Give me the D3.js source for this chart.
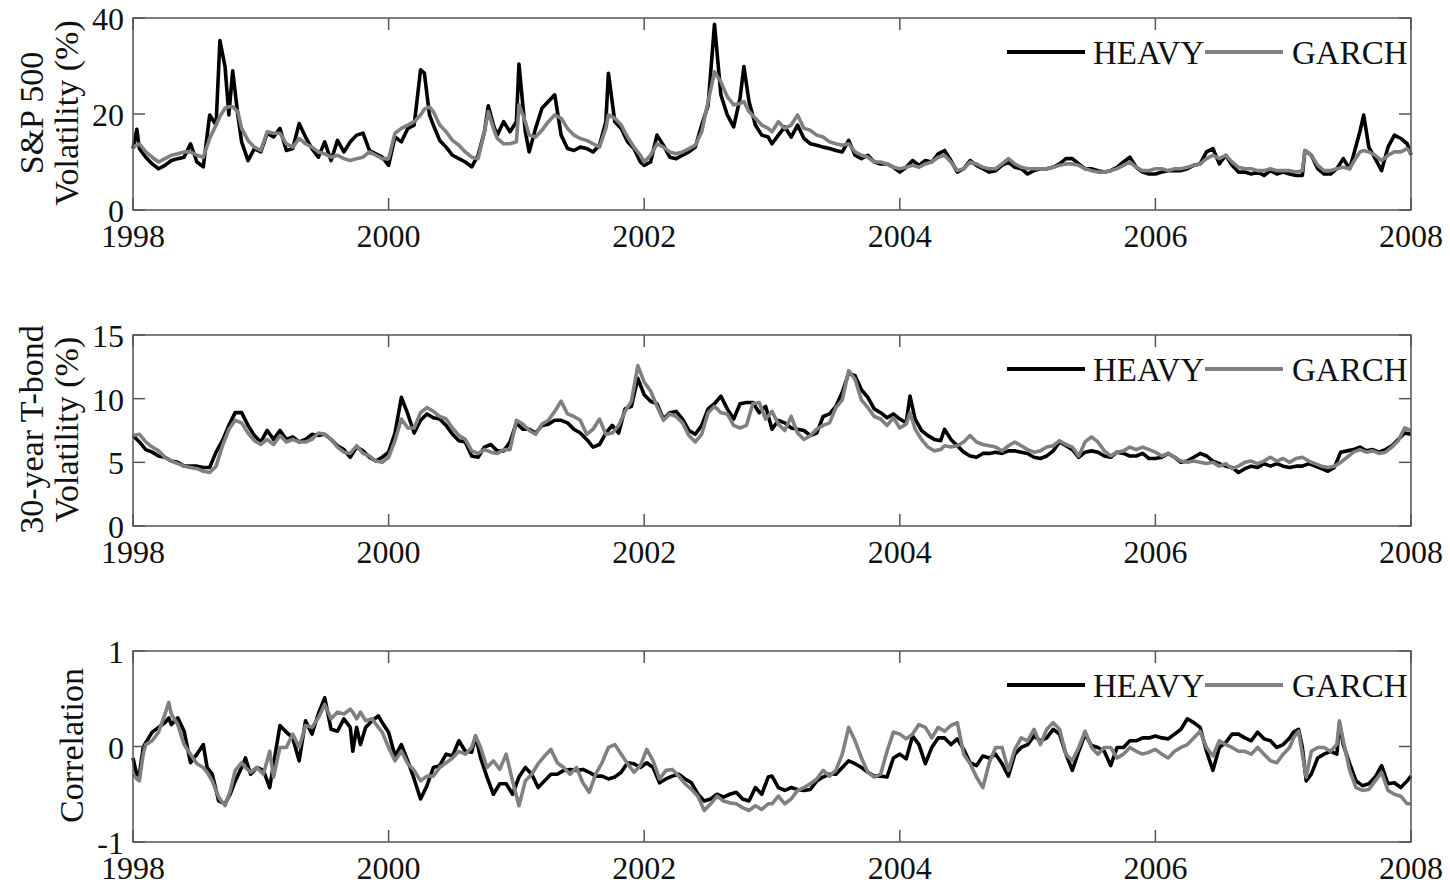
<!DOCTYPE html>
<meta charset="utf-8">
<head>
    <script type="text/javascript" src="https://cdn.jsdelivr.net/npm/d3@7"></script>
    <style>
        body { margin: 0; background: #fff; }
        svg text { font-family: "Liberation Serif", "Times New Roman", serif; fill: #111; }
        .tick-label { font-size: 32px; }
        .axis-label { font-size: 34px; }
        .legend-label { font-size: 33px; }
    </style>
</head>
<body>
<div id="chart"></div>
<script>

// ---- S&P 500 volatility (%) ----
let spDates = [
    1998.00, 1998.03, 1998.05, 1998.10, 1998.15, 1998.20, 1998.25, 1998.30, 1998.35, 1998.40, 1998.45, 1998.50,
    1998.55, 1998.60, 1998.65, 1998.68, 1998.72, 1998.75, 1998.78, 1998.82, 1998.85, 1998.90, 1998.95,
    1999.00, 1999.05, 1999.10, 1999.15, 1999.20, 1999.25, 1999.30, 1999.35, 1999.40, 1999.45, 1999.50,
    1999.55, 1999.60, 1999.65, 1999.70, 1999.75, 1999.80, 1999.85, 1999.90, 1999.95,
    2000.00, 2000.05, 2000.10, 2000.15, 2000.20, 2000.25, 2000.28, 2000.32, 2000.35, 2000.40, 2000.45,
    2000.50, 2000.55, 2000.60, 2000.65, 2000.70, 2000.75, 2000.78, 2000.82, 2000.85, 2000.90, 2000.95,
    2001.00, 2001.02, 2001.07, 2001.10, 2001.15, 2001.20, 2001.25, 2001.30, 2001.35, 2001.40, 2001.45,
    2001.50, 2001.55, 2001.60, 2001.65, 2001.70, 2001.72, 2001.77, 2001.82, 2001.87, 2001.92, 2001.97,
    2002.00, 2002.05, 2002.10, 2002.15, 2002.20, 2002.25, 2002.30, 2002.35, 2002.40, 2002.45, 2002.50,
    2002.55, 2002.60, 2002.65, 2002.70, 2002.75, 2002.78, 2002.82, 2002.87, 2002.92, 2002.97,
    2003.00, 2003.05, 2003.10, 2003.15, 2003.20, 2003.25, 2003.30, 2003.35, 2003.40, 2003.45,
    2003.50, 2003.55, 2003.60, 2003.65, 2003.70, 2003.75, 2003.80, 2003.85, 2003.90, 2003.95,
    2004.00, 2004.05, 2004.10, 2004.15, 2004.20, 2004.25, 2004.30, 2004.35, 2004.40, 2004.45,
    2004.50, 2004.55, 2004.60, 2004.65, 2004.70, 2004.75, 2004.80, 2004.85, 2004.90, 2004.95,
    2005.00, 2005.05, 2005.10, 2005.15, 2005.20, 2005.25, 2005.30, 2005.35, 2005.40, 2005.45,
    2005.50, 2005.55, 2005.60, 2005.65, 2005.70, 2005.75, 2005.80, 2005.85, 2005.90, 2005.95,
    2006.00, 2006.05, 2006.10, 2006.15, 2006.20, 2006.25, 2006.30, 2006.35, 2006.40, 2006.45,
    2006.50, 2006.55, 2006.60, 2006.65, 2006.70, 2006.75, 2006.80, 2006.85, 2006.90, 2006.95,
    2007.00, 2007.05, 2007.10, 2007.15, 2007.17, 2007.22, 2007.27, 2007.32, 2007.37, 2007.42,
    2007.47, 2007.52, 2007.55, 2007.60, 2007.63, 2007.67, 2007.72, 2007.77, 2007.82, 2007.87,
    2007.92, 2007.97, 2008.00
];
let spHeavy = [
    12.8, 16.8, 12.8, 11, 9.6, 8.6, 9.3, 10.3, 10.7, 11, 13.8, 10,
    9, 19.8, 17.7, 35.3, 29.9, 19.8, 29, 19.8, 14.2, 10.3, 12.8,
    12.1, 16, 15.2, 17, 12.4, 12.8, 18, 15.2, 12.8, 11, 14.2,
    10.3, 14.5, 12.1, 14.2, 15.6, 16, 12.4, 11.7, 11,
    9.3, 15.2, 14.2, 17, 17.7, 29.2, 28.5, 19.8, 17.7, 14.5, 13.1,
    11.4, 10.7, 10, 9, 11.4, 16.3, 21.7, 17.7, 15.6, 18.4, 16.3,
    18.4, 30.4, 16.3, 12.1, 17, 21.2, 22.6, 24, 15.6, 12.8, 12.4,
    13.1, 12.8, 12.1, 13.5, 18.4, 28.5, 18.4, 17, 14.2, 12.8, 10,
    9.3, 10, 15.6, 13.5, 11, 10.7, 11.4, 12.1, 13.1, 17.7, 21.8,
    38.7, 24, 19.8, 17.3, 23.3, 29.9, 22.6, 17.7, 15.6, 15.2,
    13.8, 15.6, 17.3, 15.2, 17.7, 14.9, 13.8, 13.5, 13.1, 12.8,
    12.4, 12.1, 14.5, 11.4, 10.7, 11.4, 10, 9.6, 9.6, 8.9,
    7.9, 8.9, 10.3, 9.3, 10.3, 10, 11.7, 12.4, 10.3, 7.9,
    8.6, 10.3, 9.3, 8.6, 7.9, 8.2, 9.3, 10, 8.9, 8.6,
    7.5, 8.2, 8.6, 8.6, 8.9, 9.6, 10.7, 10.7, 9.6, 8.6,
    8.6, 8.2, 7.9, 8.2, 8.9, 10, 11, 8.9, 7.9, 7.5,
    7.5, 7.9, 8.2, 8.2, 8.2, 8.6, 9.3, 9.6, 12.1, 12.8,
    9.6, 11.4, 9.3, 7.9, 7.9, 7.5, 7.9, 7.2, 8.2, 7.5,
    7.9, 7.5, 7.2, 7.2, 12.4, 11.4, 8.6, 7.5, 7.5, 8.6,
    10.7, 8.6, 11.4, 16.3, 19.8, 13.1, 10.7, 8.2, 13.1, 15.6,
    14.9, 13.8, 11.5
];
let spGarch = [
    13.1, 13.5, 13.8, 12.1, 11, 10, 10.7, 11.4, 11.7, 12.1, 12.1, 11.4,
    11, 14.9, 17.7, 19.5, 21.2, 21.5, 21.5, 20.5, 17, 14.5, 13.1,
    12.4, 16.3, 16, 16, 13.8, 13.1, 14.9, 13.8, 13.1, 12.1, 11.7,
    11, 11.4, 10.7, 10.3, 10.7, 11, 12.1, 11.4, 10.7,
    10.7, 16, 17, 17.7, 18.4, 19.8, 21, 21.5, 20.5, 17.7, 16.3,
    14.5, 13.5, 12.1, 11, 10.7, 16.3, 20.5, 17, 14.9, 13.8, 13.8,
    14.2, 21.9, 18.4, 15.6, 15.2, 16.6, 18.4, 19.8, 19.1, 17, 15.6,
    14.9, 14.5, 13.8, 13.1, 17, 19.8, 19.1, 17.7, 15.2, 13.1, 11.4,
    10, 11.4, 13.8, 13.1, 12.1, 11.7, 12.1, 12.8, 13.5, 16.3, 22.6,
    28.8, 26.7, 23.6, 21.9, 22.2, 22.6, 20.5, 19.1, 17.7, 17,
    16.3, 18.4, 17, 17.7, 19.8, 17, 16.6, 15.6, 15.2, 14.2,
    13.8, 13.5, 13.8, 12.1, 11.4, 11, 10, 10, 9.6, 8.9,
    8.6, 8.9, 9.3, 8.9, 9.6, 10, 11, 11.4, 10, 8.2,
    8.6, 10, 9.6, 8.9, 8.6, 8.6, 9.6, 10.7, 9.6, 8.9,
    8.6, 8.6, 8.6, 8.6, 8.9, 9.3, 9.6, 9.6, 9.3, 8.6,
    8.2, 7.9, 7.9, 8.2, 8.6, 9.3, 10, 8.9, 8.2, 8.2,
    8.6, 8.6, 8.2, 8.6, 8.6, 8.9, 9.3, 9.6, 10.7, 11.4,
    10.7, 11.4, 10, 8.9, 8.6, 8.6, 8.2, 8.2, 8.6, 8.2,
    8.2, 8.2, 7.9, 8.2, 12.4, 11.4, 9.3, 8.2, 8.2, 8.6,
    8.9, 8.6, 10, 12.1, 12.4, 12.1, 11.4, 10.3, 11.4, 12.1,
    12.1, 12.8, 11.7
];

// ---- 30-year T-bond volatility (%) ----
let bondDates = [
    1998.00, 1998.05, 1998.10, 1998.15, 1998.20, 1998.25, 1998.30, 1998.35, 1998.40, 1998.45,
    1998.50, 1998.55, 1998.60, 1998.65, 1998.70, 1998.75, 1998.80, 1998.85, 1998.90, 1998.95,
    1999.00, 1999.05, 1999.10, 1999.15, 1999.20, 1999.25, 1999.30, 1999.35, 1999.40, 1999.45,
    1999.50, 1999.55, 1999.60, 1999.65, 1999.70, 1999.75, 1999.80, 1999.85, 1999.90, 1999.95,
    2000.00, 2000.05, 2000.10, 2000.15, 2000.20, 2000.25, 2000.30, 2000.35, 2000.40, 2000.45,
    2000.50, 2000.55, 2000.60, 2000.65, 2000.70, 2000.75, 2000.80, 2000.85, 2000.90, 2000.95,
    2001.00, 2001.05, 2001.10, 2001.15, 2001.20, 2001.25, 2001.30, 2001.35, 2001.40, 2001.45,
    2001.50, 2001.55, 2001.60, 2001.65, 2001.70, 2001.75, 2001.80, 2001.85, 2001.90, 2001.95,
    2002.00, 2002.05, 2002.10, 2002.15, 2002.20, 2002.25, 2002.30, 2002.35, 2002.40, 2002.45,
    2002.50, 2002.55, 2002.60, 2002.65, 2002.70, 2002.75, 2002.80, 2002.85, 2002.90, 2002.95,
    2003.00, 2003.05, 2003.10, 2003.15, 2003.20, 2003.25, 2003.30, 2003.35, 2003.40, 2003.45,
    2003.50, 2003.55, 2003.60, 2003.65, 2003.70, 2003.75, 2003.80, 2003.85, 2003.90, 2003.95,
    2004.00, 2004.05, 2004.08, 2004.12, 2004.17, 2004.22, 2004.27, 2004.32,
    2004.35, 2004.40, 2004.45, 2004.50, 2004.55, 2004.60, 2004.65, 2004.70, 2004.75, 2004.80,
    2004.85, 2004.90, 2004.95,
    2005.00, 2005.05, 2005.10, 2005.15, 2005.20, 2005.25, 2005.30, 2005.35, 2005.40, 2005.45,
    2005.50, 2005.55, 2005.60, 2005.65, 2005.70, 2005.75, 2005.80, 2005.85, 2005.90, 2005.95,
    2006.00, 2006.05, 2006.10, 2006.15, 2006.20, 2006.25, 2006.30, 2006.35, 2006.40, 2006.45,
    2006.50, 2006.55, 2006.60, 2006.65, 2006.70, 2006.75, 2006.80, 2006.85, 2006.90, 2006.95,
    2007.00, 2007.05, 2007.10, 2007.15, 2007.20, 2007.25, 2007.30, 2007.35, 2007.40, 2007.45,
    2007.50, 2007.55, 2007.60, 2007.65, 2007.70, 2007.75, 2007.80, 2007.85, 2007.90, 2007.95,
    2008.00
];
let bondHeavy = [
    7.1, 6.6, 6, 5.8, 5.5, 5.4, 5.1, 5, 4.7, 4.7, 4.7, 4.6, 4.6, 5.8, 6.7, 7.9, 8.9, 8.9, 7.9, 7.1,
    6.6, 7.5, 6.8, 7.5, 6.8, 7, 6.6, 6.8, 7.2, 7.1, 7.2, 6.8, 6.3, 6, 5.4, 6.2, 5.9, 5.4, 5.1, 5.4,
    5.8, 7.3, 10.1, 8.8, 7.3, 8.3, 8.8, 8.5, 8.4, 7.9, 7.2, 6.7, 6.6, 5.5, 5.4, 6.2, 6.4, 5.9, 5.9, 6.6,
    8.1, 7.6, 7.6, 7.3, 7.9, 8, 8.3, 8.3, 8.1, 7.6, 7.3, 6.8, 6.2, 6.4, 7.3, 7.9, 7.3, 9.2, 9.4, 11.6,
    10.3, 9.8, 9.6, 8.4, 8.9, 9, 8.4, 7.5, 7.2, 7.9, 9.2, 9.6, 10.2, 9.2, 8.4, 9.6, 9.7, 9.7, 8.9, 9.4,
    7.6, 8.3, 8.1, 7.7, 7.6, 7.5, 7.1, 7.3, 8.6, 8.8, 9.4, 10.5, 12, 11.8, 10.7, 10.1, 9.2, 8.9, 8.5, 8.8,
    8.4, 8.1, 10.2, 8.4, 7.5, 7.1, 6.8, 6.7,
    7.6, 6.8, 6.3, 5.8, 5.5, 5.4, 5.7, 5.7, 5.8, 5.7, 5.9, 5.9, 5.8,
    5.7, 5.4, 5.3, 5.5, 5.9, 6.6, 6.3, 6, 5.4, 5.8, 5.9, 5.8, 5.5, 5.4, 5.8, 5.7, 5.5, 5.5, 5.7, 5.3,
    5.3, 5.4, 5.7, 5.4, 5, 5.1, 5.4, 5.7, 5.5, 5.1, 4.9, 4.7, 4.6, 4.2, 4.5, 4.7, 4.6, 4.9, 4.7, 4.9,
    4.7, 4.6, 4.7, 4.7, 4.9, 4.7, 4.5, 4.3, 4.6, 5.8, 5.9, 6, 6.2, 5.9, 6, 5.8, 6, 6.3, 6.8, 7.3,
    7.2
];
let bondGarch = [
    7.1, 7.2, 6.6, 6.2, 5.9, 5.4, 5.1, 4.9, 4.7, 4.6, 4.5, 4.3, 4.2, 4.7, 6.3, 7.6, 8.3, 8.1, 7.3, 6.7,
    6.4, 6.8, 6.4, 7.1, 6.6, 6.8, 6.6, 6.6, 6.8, 7.3, 7.2, 6.8, 6.2, 5.8, 5.7, 6.3, 5.7, 5.5, 5.1, 5,
    5.4, 6.7, 8.4, 7.7, 7.7, 8.9, 9.3, 9, 8.6, 8.4, 7.7, 7.1, 6.8, 5.9, 5.7, 6, 5.8, 5.7, 6, 6,
    8.3, 8, 7.5, 7.2, 8, 8.3, 9, 9.8, 8.8, 8.6, 8.3, 7.2, 7.6, 8.4, 7.2, 7.3, 7.9, 9, 9.8, 12.6,
    11.3, 10.6, 9.4, 8.3, 8.8, 8.6, 8.1, 7.1, 6.6, 7.2, 8.9, 9.4, 8.9, 8.8, 7.9, 7.7, 7.9, 9.6, 9.7, 8.4,
    9, 8, 7.5, 8.6, 7.3, 6.8, 7.1, 7.6, 7.9, 8.1, 9.3, 9.9, 12.2, 11.5, 9.9, 9.3, 8.6, 8.4, 7.9, 8.5,
    7.7, 8, 8.9, 7.6, 6.8, 6.2, 5.9, 6,
    6.3, 6.2, 6.3, 6.6, 7.1, 6.6, 6.4, 6.3, 6.2, 5.9, 6.3, 6.6, 6.3,
    6, 5.8, 5.9, 6.2, 6.3, 6.7, 6.4, 6.2, 5.5, 6.6, 7, 6.6, 5.9, 5.5, 5.8, 5.9, 6.2, 6, 6.2, 6,
    5.8, 5.5, 5.7, 5.4, 5.1, 5, 5.1, 5, 4.9, 5, 4.7, 4.9, 4.5, 4.7, 5, 5.1, 4.9, 5.1, 5.4, 5.1,
    5.3, 5, 5.3, 5.4, 5.1, 4.9, 4.7, 4.6, 4.7, 5, 5.4, 5.8, 6, 5.8, 5.9, 5.7, 5.8, 6.2, 6.7, 7.7,
    7.5
];

// ---- Correlation ----
let corrDates = [
    1998.00, 1998.03, 1998.05, 1998.08, 1998.10, 1998.15, 1998.20, 1998.25, 1998.28, 1998.30,
    1998.35, 1998.40, 1998.45, 1998.50, 1998.55, 1998.58, 1998.62, 1998.67, 1998.72, 1998.76,
    1998.80, 1998.85, 1998.88, 1998.92, 1998.97, 1999.02, 1999.07,
    1999.10, 1999.15, 1999.20, 1999.25, 1999.30, 1999.35, 1999.40, 1999.45, 1999.50, 1999.55,
    1999.60, 1999.65, 1999.70, 1999.72, 1999.75, 1999.78, 1999.82, 1999.87, 1999.92, 1999.95,
    2000.00, 2000.05, 2000.10, 2000.15, 2000.20, 2000.25, 2000.30, 2000.35, 2000.40, 2000.45,
    2000.50, 2000.55, 2000.60, 2000.65, 2000.68,
    2000.72, 2000.77, 2000.82, 2000.87, 2000.92, 2000.97,
    2001.02, 2001.07, 2001.12, 2001.17, 2001.22, 2001.27, 2001.32, 2001.37, 2001.42, 2001.47,
    2001.52, 2001.57, 2001.62, 2001.67, 2001.72, 2001.77, 2001.82, 2001.87, 2001.92, 2001.97,
    2002.02, 2002.07, 2002.12, 2002.17, 2002.22, 2002.27, 2002.32, 2002.37, 2002.42, 2002.47,
    2002.52, 2002.57, 2002.62, 2002.67, 2002.72, 2002.77, 2002.82, 2002.87, 2002.92, 2002.97,
    2003.00, 2003.05, 2003.10, 2003.15, 2003.20, 2003.25, 2003.30, 2003.35, 2003.40, 2003.45,
    2003.50, 2003.55, 2003.60, 2003.65, 2003.70, 2003.75, 2003.80, 2003.85, 2003.90, 2003.95,
    2004.00, 2004.05, 2004.10, 2004.15, 2004.20, 2004.25, 2004.30, 2004.35, 2004.40, 2004.45,
    2004.50, 2004.55, 2004.60, 2004.65, 2004.70, 2004.75, 2004.80, 2004.85, 2004.90, 2004.95,
    2005.00, 2005.05, 2005.10, 2005.15, 2005.20, 2005.25, 2005.30, 2005.35, 2005.40, 2005.45,
    2005.50, 2005.55, 2005.60, 2005.65, 2005.70, 2005.75, 2005.80, 2005.85, 2005.90, 2005.95,
    2006.00, 2006.05, 2006.10, 2006.15, 2006.20, 2006.25, 2006.30, 2006.35, 2006.40, 2006.45,
    2006.50, 2006.55, 2006.60, 2006.65, 2006.70, 2006.75, 2006.80, 2006.85, 2006.90, 2006.95,
    2007.00, 2007.05, 2007.08, 2007.12, 2007.15, 2007.18, 2007.22, 2007.27, 2007.32, 2007.37,
    2007.42, 2007.44, 2007.47, 2007.52, 2007.57, 2007.62, 2007.67, 2007.72, 2007.77, 2007.82,
    2007.87, 2007.92, 2007.97, 2008.00
];
let corrHeavy = [
    -0.12, -0.3, -0.29, -0.01, 0.04, 0.15, 0.2, 0.25, 0.3, 0.23,
    0.3, 0.16, -0.17, -0.08, 0.02, -0.22, -0.29, -0.57, -0.6, -0.5,
    -0.36, -0.22, -0.12, -0.29, -0.22, -0.25, -0.43,
    -0.18, 0.22, 0.15, 0.09, -0.15, 0.27, 0.13, 0.34, 0.51, 0.18,
    0.16, 0.29, 0.2, -0.05, 0.2, 0.02, 0.2, 0.27, 0.32, 0.25,
    0.15, -0.1, 0.02, -0.15, -0.34, -0.55, -0.41, -0.22, -0.2, -0.08,
    -0.1, 0.06, -0.05, -0.06, 0.11,
    -0.12, -0.32, -0.5, -0.39, -0.39, -0.5,
    -0.32, -0.22, -0.29, -0.43, -0.36, -0.29, -0.29, -0.25, -0.24, -0.25,
    -0.24, -0.27, -0.31, -0.31, -0.34, -0.32, -0.27, -0.17, -0.18, -0.22,
    -0.17, -0.22, -0.38, -0.34, -0.31, -0.29, -0.34, -0.38, -0.5, -0.57,
    -0.55, -0.5, -0.53, -0.5, -0.48, -0.55, -0.57, -0.43, -0.5, -0.32,
    -0.31, -0.43, -0.46, -0.43, -0.45, -0.46, -0.45, -0.36, -0.32, -0.29,
    -0.29, -0.22, -0.15, -0.18, -0.22, -0.27, -0.31, -0.31, -0.32, -0.12,
    -0.08, -0.13, 0.11, 0.02, -0.18, -0.01, 0.09, 0.09, 0.02, 0.08,
    -0.03, -0.17, -0.2, -0.1, -0.12, -0.08, -0.18, -0.31, -0.08, -0.01,
    0.02, 0.11, 0.06, 0.09, 0.18, 0.13, -0.08, -0.25, -0.05, 0.13,
    0.01, -0.01, -0.05, -0.2, -0.01, -0.01, 0.06, 0.06, 0.09, 0.09,
    0.11, 0.09, 0.08, 0.13, 0.18, 0.29, 0.25, 0.2, -0.05, -0.25,
    -0.01, 0.04, 0.13, 0.13, 0.09, 0.06, 0.15, 0.08, 0.06, -0.01,
    0.02, 0.09, 0.15, 0.18, -0.01, -0.36, -0.29, -0.12, -0.08, -0.05,
    -0.08, 0.25, 0.02, -0.18, -0.36, -0.41, -0.39, -0.32, -0.2, -0.39,
    -0.38, -0.43, -0.36, -0.31
];
let corrGarch = [
    -0.29, -0.34, -0.36, -0.08, 0.02, 0.06, 0.15, 0.34, 0.46, 0.34,
    0.23, 0.02, -0.08, -0.18, -0.22, -0.27, -0.36, -0.53, -0.62, -0.47,
    -0.25, -0.17, -0.22, -0.27, -0.22, -0.29, -0.05,
    -0.32, -0.01, -0.01, 0.13, -0.01, 0.22, 0.2, 0.3, 0.44, 0.29,
    0.36, 0.34, 0.39, 0.36, 0.29, 0.36, 0.27, 0.29, 0.2, 0.15,
    -0.01, -0.15, -0.05, -0.18, -0.25, -0.36, -0.31, -0.31, -0.22, -0.17,
    -0.12, -0.05, -0.08, -0.01, 0.11,
    -0.01, -0.22, -0.15, -0.24, -0.08, -0.36,
    -0.62, -0.36, -0.29, -0.18, -0.1, -0.03, -0.17, -0.22, -0.29, -0.22,
    -0.38, -0.48, -0.29, -0.17, -0.01, 0.02, -0.08, -0.18, -0.27, -0.2,
    -0.03, -0.15, -0.34, -0.25, -0.24, -0.31, -0.39, -0.45, -0.52, -0.67,
    -0.6, -0.52, -0.57, -0.59, -0.6, -0.64, -0.67, -0.62, -0.66, -0.6,
    -0.6, -0.52, -0.6, -0.55, -0.46, -0.43, -0.39, -0.34, -0.25, -0.31,
    -0.25, -0.08, 0.2, 0.06, -0.12, -0.27, -0.32, -0.29, -0.05, 0.15,
    0.13, 0.08, 0.13, 0.23, 0.2, 0.09, 0.2, 0.16, 0.22, 0.25,
    -0.08, -0.18, -0.32, -0.43, -0.17, -0.01, -0.01, -0.25, -0.03, 0.09,
    0.06, 0.18, 0.02, 0.18, 0.25, 0.18, -0.08, -0.15, -0.01, 0.16,
    -0.01, -0.08, -0.01, -0.01, -0.12, -0.08, -0.01, -0.05, -0.08, -0.06,
    -0.03, -0.08, -0.12, -0.05, -0.01, 0.02, 0.09, 0.16, -0.01, -0.1,
    0.06, 0.02, -0.01, -0.05, -0.05, -0.08, -0.01, -0.08, -0.15, -0.17,
    -0.08, -0.01, 0.09, 0.16, -0.08, -0.32, -0.05, -0.01, -0.01, -0.05,
    0.02, 0.27, 0.06, -0.25, -0.43, -0.46, -0.45, -0.36, -0.27, -0.46,
    -0.5, -0.52, -0.6, -0.6
];

let xTicks = [1998, 2000, 2002, 2004, 2006, 2008];
let seriesNames = ["HEAVY", "GARCH"];
let seriesColors = ["#000000", "#808080"];

// ---- layout ----
let svg_width = 1450;
let svg_height = 886;
let plotLeft = 133;
let plotRight = 1411;
let tickLen = 12;

let svg = d3.select("#chart")
    .append("svg")
    .attr("width", svg_width)
    .attr("height", svg_height);

svg.append("rect").attr("width", svg_width).attr("height", svg_height).attr("fill", "#fff");

let x = d3.scaleLinear().domain([1998, 2008]).range([plotLeft, plotRight]);

let panels = [
    {top: 18, bottom: 210, domain: [0, 40], yTicks: [0, 20, 40],
        dates: spDates, heavy: spHeavy, garch: spGarch,
        labels: [["S&P 500", 43], ["Volatility (%)", 78]]},
    {top: 335, bottom: 526, domain: [0, 15], yTicks: [0, 5, 10, 15],
        dates: bondDates, heavy: bondHeavy, garch: bondGarch,
        labels: [["30-year T-bond", 43], ["Volatility (%)", 78]]},
    {top: 651, bottom: 842, domain: [-1, 1], yTicks: [-1, 0, 1],
        dates: corrDates, heavy: corrHeavy, garch: corrGarch,
        labels: [["Correlation", 83]]}
];

panels.forEach(function (p) {

    let y = d3.scaleLinear().domain(p.domain).range([p.bottom, p.top]);
    let g = svg.append("g");

    // data lines: HEAVY first, GARCH drawn over it
    let rows = p.dates.map(function (d, i) { return {t: d, h: p.heavy[i], g: p.garch[i]}; });

    let lineH = d3.line().x(function (d) { return x(d.t); }).y(function (d) { return y(d.h); });
    let lineG = d3.line().x(function (d) { return x(d.t); }).y(function (d) { return y(d.g); });

    g.append("path").datum(rows)
        .attr("d", lineH)
        .attr("fill", "none")
        .attr("stroke", seriesColors[0])
        .attr("stroke-width", 3.6)
        .attr("stroke-linejoin", "round");

    g.append("path").datum(rows)
        .attr("d", lineG)
        .attr("fill", "none")
        .attr("stroke", seriesColors[1])
        .attr("stroke-width", 3.6)
        .attr("stroke-linejoin", "round");

    // frame
    g.append("rect")
        .attr("x", plotLeft)
        .attr("y", p.top)
        .attr("width", plotRight - plotLeft)
        .attr("height", p.bottom - p.top)
        .attr("fill", "none")
        .attr("stroke", "#555")
        .attr("stroke-width", 1.5);

    // x ticks, inward on top and bottom, with labels
    xTicks.forEach(function (t) {
        g.append("line")
            .attr("x1", x(t)).attr("x2", x(t))
            .attr("y1", p.bottom).attr("y2", p.bottom - tickLen)
            .attr("stroke", "#555").attr("stroke-width", 1.5);
        g.append("line")
            .attr("x1", x(t)).attr("x2", x(t))
            .attr("y1", p.top).attr("y2", p.top + tickLen)
            .attr("stroke", "#555").attr("stroke-width", 1.5);
        g.append("text")
            .attr("class", "tick-label")
            .attr("x", x(t))
            .attr("y", p.bottom + 37)
            .attr("text-anchor", "middle")
            .text(t);
    });

    // y ticks, inward on left and right, with labels
    p.yTicks.forEach(function (v) {
        g.append("line")
            .attr("x1", plotLeft).attr("x2", plotLeft + tickLen)
            .attr("y1", y(v)).attr("y2", y(v))
            .attr("stroke", "#555").attr("stroke-width", 1.5);
        g.append("line")
            .attr("x1", plotRight).attr("x2", plotRight - tickLen)
            .attr("y1", y(v)).attr("y2", y(v))
            .attr("stroke", "#555").attr("stroke-width", 1.5);
        g.append("text")
            .attr("class", "tick-label")
            .attr("x", plotLeft - 9)
            .attr("y", y(v))
            .attr("dy", "0.38em")
            .attr("text-anchor", "end")
            .text(v);
    });

    // rotated y label, one or two lines
    let midY = (p.top + p.bottom) / 2 - 1;
    p.labels.forEach(function (l) {
        g.append("text")
            .attr("class", "axis-label")
            .attr("transform", "translate(" + l[1] + "," + midY + ") rotate(-90)")
            .attr("text-anchor", "middle")
            .text(l[0]);
    });

    // legend in the top right corner, no box
    let legY = p.top + 34;
    let legItems = [
        {x1: 1007, x2: 1085, tx: 1093},
        {x1: 1205, x2: 1283, tx: 1292}
    ];
    legItems.forEach(function (it, i) {
        g.append("line")
            .attr("x1", it.x1).attr("x2", it.x2)
            .attr("y1", legY).attr("y2", legY)
            .attr("stroke", seriesColors[i])
            .attr("stroke-width", 4);
        g.append("text")
            .attr("class", "legend-label")
            .attr("x", it.tx)
            .attr("y", legY + 12)
            .text(seriesNames[i]);
    });
});

</script>
</body>
</html>
